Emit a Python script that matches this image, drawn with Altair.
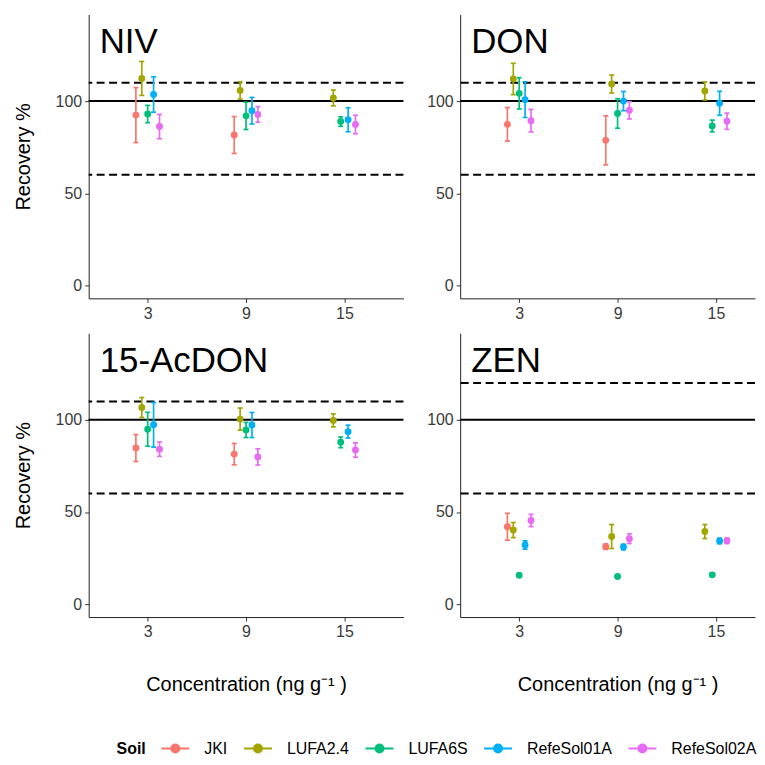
import altair as alt
import pandas as pd

panels = ["NIV", "DON", "15-AcDON", "ZEN"]
soils = ["JKI", "LUFA2.4", "LUFA6S", "RefeSol01A", "RefeSol02A"]
concs = ["3", "9", "15"]
colors = ["#F8766D", "#A3A500", "#00BF7D", "#00B0F6", "#E76BF3"]

# mean recovery (%) per panel, soil; order of concs 3, 9, 15 (None = not measured)
niv_mean = {"JKI": [92.4, 81.6, None], "LUFA2.4": [112.3, 105.8, 101.7], "LUFA6S": [93.0, 92.0, 88.9],
            "RefeSol01A": [103.6, 94.8, 89.9], "RefeSol02A": [86.2, 92.8, 87.3]}
niv_err = {"JKI": [14.9, 10.0, None], "LUFA2.4": [9.2, 4.7, 4.3], "LUFA6S": [4.7, 7.4, 2.6],
           "RefeSol01A": [9.6, 7.2, 6.5], "RefeSol02A": [6.6, 4.2, 5.0]}

don_mean = {"JKI": [87.4, 78.7, None], "LUFA2.4": [112.0, 109.3, 105.5], "LUFA6S": [104.2, 93.3, 86.5],
            "RefeSol01A": [100.8, 100.0, 98.8], "RefeSol02A": [89.4, 95.0, 89.1]}
don_err = {"JKI": [9.1, 13.3, None], "LUFA2.4": [8.5, 4.9, 4.9], "LUFA6S": [8.5, 8.0, 3.2],
           "RefeSol01A": [9.7, 5.2, 6.5], "RefeSol02A": [6.1, 4.7, 4.4]}

acdon_mean = {"JKI": [84.7, 81.4, None], "LUFA2.4": [106.7, 100.4, 99.7], "LUFA6S": [94.9, 94.5, 87.8],
              "RefeSol01A": [97.3, 97.2, 93.6], "RefeSol02A": [84.1, 79.9, 83.6]}
acdon_err = {"JKI": [7.3, 5.8, None], "LUFA2.4": [5.4, 6.0, 3.5], "LUFA6S": [9.2, 4.1, 2.9],
             "RefeSol01A": [12.1, 6.8, 3.5], "RefeSol02A": [3.9, 4.4, 3.9]}

zen_mean = {"JKI": [42.0, 31.2, None], "LUFA2.4": [40.2, 36.7, 39.4], "LUFA6S": [15.7, 15.0, 15.9],
            "RefeSol01A": [32.1, 31.0, 34.3], "RefeSol02A": [45.4, 35.5, 34.4]}
zen_err = {"JKI": [7.3, 1.5, None], "LUFA2.4": [4.1, 6.5, 3.8], "LUFA6S": [0.8, 0.8, 0.8],
           "RefeSol01A": [2.2, 1.5, 1.5], "RefeSol02A": [3.3, 2.6, 1.5]}

upper_limit = [110, 110, 110, 120]
lower_limit = [60, 60, 60, 60]
target = [100, 100, 100, 100]

means = [niv_mean, don_mean, acdon_mean, zen_mean]
errs = [niv_err, don_err, acdon_err, zen_err]

rows = []
for p, m, e in zip(panels, means, errs):
    for s in soils:
        for i, c in enumerate(concs):
            if m[s][i] is not None:
                rows.append({"panel": p, "Soil": s, "conc": c, "mean": m[s][i], "err": e[s][i]})
df = pd.DataFrame(rows)

ref_rows = []
for p, u, l, t in zip(panels, upper_limit, lower_limit, target):
    ref_rows += [{"panel": p, "value": u, "kind": "dashed"},
                 {"panel": p, "value": l, "kind": "dashed"},
                 {"panel": p, "value": t, "kind": "solid"}]
ref_df = pd.DataFrame(ref_rows)

FONT = "Liberation Sans"
conc_arr = "[" + ",".join("'%s'" % c for c in concs) + "]"
soil_arr = "[" + ",".join("'%s'" % s for s in soils) + "]"

color_scale = alt.Scale(domain=soils, range=colors)
legend = alt.Legend(orient="none", legendX=28, legendY=729, direction="horizontal",
                    titleOrient="left", title="Soil", titleFontWeight="bold",
                    titleAnchor="middle", titleBaseline="middle",
                    titleFontSize=16, labelFontSize=16, titleFont=FONT, labelFont=FONT,
                    titleColor="black", labelColor="black", titlePadding=21,
                    symbolType="M-2.8,0L2.8,0M-0.8,0A0.8,0.8,0,1,0,0.8,0A0.8,0.8,0,1,0,-0.8,0Z",
                    symbolSize=100, symbolStrokeWidth=2, columnPadding=12, labelOffset=21)


def panel(name, ytitle, xtitle, width, xmax):
    yscale = alt.Scale(domain=[-7, 147], nice=False, zero=False)
    xscale = alt.Scale(domain=[-0.6, xmax], nice=False, zero=False)
    xaxis = alt.Axis(values=[0, 1, 2], labelExpr=conc_arr + "[datum.value]", grid=False,
                     title=xtitle, titleFontSize=20, titleFont=FONT, titleFontWeight="normal",
                     titleColor="black", titlePadding=35, titleX=158,
                     labelFontSize=16, labelFont=FONT, labelColor="#3a3a3a", labelPadding=3,
                     domainColor="#222", tickColor="#333", tickSize=4)
    yaxis = alt.Axis(values=[0, 50, 100], grid=False, title=ytitle, titleFontSize=20,
                     titleFont=FONT, titleFontWeight="normal", titleColor="black", titlePadding=22,
                     labelFontSize=16, labelFont=FONT, labelColor="#3a3a3a", labelPadding=3,
                     domainColor="#222", tickColor="#333", tickSize=4)

    base = (alt.Chart(df)
            .transform_filter(alt.datum.panel == name)
            .transform_calculate(ci="indexof(" + conc_arr + ", datum.conc)",
                                 si="indexof(" + soil_arr + ", datum.Soil)",
                                 lo="datum.mean - datum.err",
                                 hi="datum.mean + datum.err")
            .transform_joinaggregate(n="count()", groupby=["conc"])
            .transform_window(slot="row_number()", sort=[alt.SortField("si")], groupby=["conc"])
            .transform_calculate(xpos="datum.ci + 0.3 * ((datum.slot - 0.5) / datum.n - 0.5)"))

    x = alt.X("xpos:Q", scale=xscale, axis=xaxis)
    col = alt.Color("Soil:N", scale=color_scale, legend=legend)

    refs = alt.Chart(ref_df).transform_filter(alt.datum.panel == name)
    solid = refs.transform_filter(alt.datum.kind == "solid").mark_rule(color="black", strokeWidth=2).encode(
        y=alt.Y("value:Q", scale=yscale, axis=yaxis))
    dashed = refs.transform_filter(alt.datum.kind == "dashed").mark_rule(
        color="black", strokeWidth=2, strokeDash=[8, 4.5]).encode(y=alt.Y("value:Q", scale=yscale))

    bars = base.mark_rule(strokeWidth=1.7).encode(x=x, y=alt.Y("lo:Q", scale=yscale), y2="hi:Q", color=col)
    cap_lo = base.mark_tick(orient="horizontal", size=5, thickness=1.7, opacity=1).encode(
        x=x, y=alt.Y("lo:Q", scale=yscale), color=col)
    cap_hi = base.mark_tick(orient="horizontal", size=5, thickness=1.7, opacity=1).encode(
        x=x, y=alt.Y("hi:Q", scale=yscale), color=col)
    pts = base.mark_circle(size=48, opacity=1).encode(x=x, y=alt.Y("mean:Q", scale=yscale), color=col)

    label = alt.Chart(pd.DataFrame({"panel": [name]})).mark_text(
        align="left", baseline="alphabetic", fontSize=35, font=FONT, color="black").encode(
        x=alt.value(11), y=alt.value(39), text="panel:N")

    return alt.layer(dashed, solid, bars, cap_lo, cap_hi, pts, label).properties(width=width, height=285)


xt = "Concentration (ng g⁻¹ )"
STEP = 98.75  # px per concentration slot, shared by both columns
W_LEFT = 316
W_RIGHT = 296
XMAX_LEFT = -0.6 + W_LEFT / STEP
XMAX_RIGHT = -0.6 + W_RIGHT / STEP

top = alt.hconcat(panel("NIV", "Recovery %", None, W_LEFT, XMAX_LEFT),
                  panel("DON", None, None, W_RIGHT, XMAX_RIGHT), spacing=22)
bot = alt.hconcat(panel("15-AcDON", "Recovery %", xt, W_LEFT, XMAX_LEFT),
                  panel("ZEN", None, xt, W_RIGHT, XMAX_RIGHT), spacing=22)
chart = (alt.vconcat(top, bot, spacing=12)
         .properties(padding={"left": 5, "top": 5, "right": 0, "bottom": 0})
         .configure(font=FONT)
         .configure_view(strokeWidth=0, stroke="transparent"))

chart.save("out.html", embed_options={"renderer": "svg", "actions": False})
